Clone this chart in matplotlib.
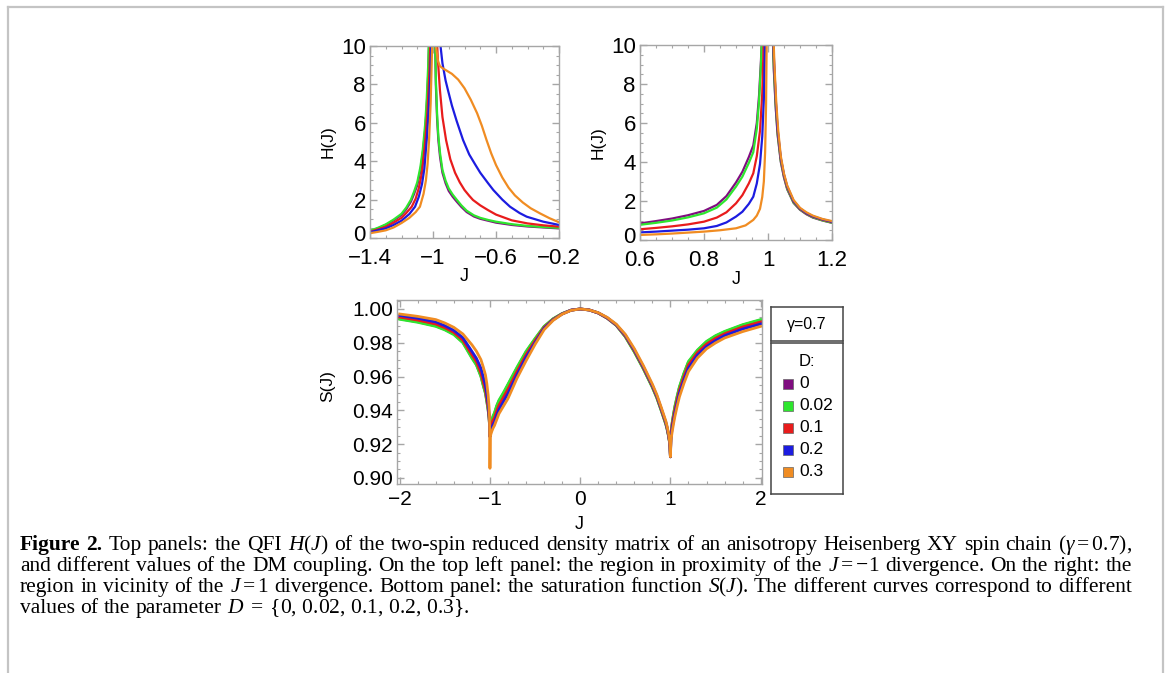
import matplotlib
matplotlib.use("Agg")
import matplotlib.pyplot as plt
from matplotlib.ticker import MultipleLocator
from matplotlib.patches import Rectangle
from matplotlib.lines import Line2D
from matplotlib.transforms import ScaledTranslation

plt.rcParams["font.family"] = ["Liberation Sans", "DejaVu Sans"]
plt.rcParams["mathtext.fontset"] = "custom"
plt.rcParams["mathtext.rm"] = "Liberation Serif"
plt.rcParams["mathtext.it"] = "Liberation Serif:italic"
plt.rcParams["mathtext.bf"] = "Liberation Serif:bold"

# ---- data ----
D_LABELS = ["0", "0.02", "0.1", "0.2", "0.3"]
COLORS = ["#800d80", "#2ee62e", "#e81c1c", "#1c1ce0", "#f08c22"]

# top left panel: H(J) near J = -1
HL_pg_J = [-1.4, -1.35, -1.3, -1.25, -1.2, -1.17, -1.14, -1.12, -1.1, -1.08, -1.065, -1.05, -1.04, -1.03, -1.02,
           -0.99, -0.982, -0.974, -0.966, -0.955, -0.94, -0.92, -0.9, -0.875, -0.85, -0.82, -0.786, -0.74, -0.7,
           -0.65, -0.6, -0.5, -0.4, -0.3, -0.2]
HL_purple_H = [0.36, 0.5, 0.68, 0.92, 1.2, 1.5, 1.9, 2.3, 2.75, 3.5, 4.4, 5.6, 6.8, 8.6, 12,
               12, 8.0, 6.2, 5.1, 4.2, 3.4, 2.85, 2.45, 2.15, 1.9, 1.62, 1.35, 1.12, 1.0, 0.9, 0.8, 0.68, 0.6, 0.55, 0.5]
HL_green_H = [0.38, 0.53, 0.71, 0.96, 1.26, 1.58, 2.0, 2.42, 2.9, 3.7, 4.6, 5.9, 7.2, 9.1, 12,
              12, 8.3, 6.45, 5.3, 4.4, 3.55, 2.98, 2.58, 2.26, 2.0, 1.7, 1.42, 1.18, 1.05, 0.94, 0.85, 0.72, 0.63, 0.57, 0.53]
HL_red_J = [-1.4, -1.35, -1.3, -1.25, -1.2, -1.17, -1.135, -1.11, -1.09, -1.07, -1.05, -1.035, -1.022, -1.012,
            -0.984, -0.97, -0.956, -0.94, -0.917, -0.89, -0.86, -0.83, -0.8, -0.77, -0.746, -0.7, -0.65, -0.6,
            -0.5, -0.4, -0.3, -0.2]
HL_red_H = [0.33, 0.45, 0.58, 0.8, 1.05, 1.3, 1.63, 2.05, 2.6, 3.4, 5.0, 6.6, 8.8, 12,
            12, 9.4, 7.7, 6.3, 5.1, 4.1, 3.4, 2.9, 2.5, 2.2, 1.98, 1.7, 1.45, 1.22, 0.92, 0.76, 0.66, 0.59]
HL_blue_J = [-1.4, -1.35, -1.3, -1.25, -1.2, -1.15, -1.114, -1.09, -1.07, -1.055, -1.04, -1.028, -1.016, -1.006,
             -0.965, -0.955, -0.94, -0.92, -0.905, -0.88, -0.85, -0.809, -0.77, -0.73, -0.7, -0.65, -0.617, -0.56,
             -0.511, -0.45, -0.405, -0.3, -0.2]
HL_blue_H = [0.3, 0.4, 0.5, 0.68, 0.9, 1.25, 1.63, 2.15, 2.8, 3.6, 5.1, 6.6, 8.6, 12,
             12, 10.2, 9.1, 8.2, 7.7, 6.9, 6.1, 5.1, 4.35, 3.8, 3.4, 2.85, 2.5, 2.0, 1.63, 1.3, 1.11, 0.85, 0.68]
HL_orange_J = [-1.4, -1.35, -1.3, -1.25, -1.2, -1.15, -1.11, -1.083, -1.06, -1.045, -1.035, -1.025, -1.015, -1.007,
               -0.998, -0.99, -0.98, -0.968, -0.956, -0.94, -0.92, -0.88, -0.84, -0.8, -0.76, -0.72, -0.69, -0.66,
               -0.63, -0.6, -0.56, -0.52, -0.48, -0.43, -0.38, -0.32, -0.26, -0.2]
HL_orange_H = [0.25, 0.32, 0.4, 0.55, 0.78, 1.05, 1.35, 1.63, 2.3, 3.0, 3.8, 5.1, 7.0, 9.5,
               12, 12, 9.9, 9.2, 8.95, 8.85, 8.75, 8.55, 8.25, 7.8, 7.2, 6.5, 5.85, 5.1, 4.4, 3.8, 3.15, 2.62,
               2.22, 1.85, 1.55, 1.28, 1.03, 0.82]

# top right panel: H(J) near J = 1
HR_pg_J = [0.6, 0.65, 0.7, 0.75, 0.8, 0.84, 0.87, 0.9, 0.92, 0.94, 0.954, 0.965, 0.972, 0.978, 0.985,
           1.012, 1.018, 1.024, 1.03, 1.04, 1.05, 1.06, 1.08, 1.1, 1.12, 1.14, 1.17, 1.2]
HR_purple_H = [0.85, 0.97, 1.1, 1.27, 1.49, 1.8, 2.25, 2.95, 3.5, 4.25, 4.85, 6.0, 7.4, 9.2, 12,
               12, 8.8, 6.8, 5.4, 4.0, 3.2, 2.6, 1.9, 1.55, 1.32, 1.15, 1.0, 0.88]
HR_green_H = [0.78, 0.88, 1.0, 1.16, 1.37, 1.66, 2.08, 2.74, 3.25, 3.95, 4.5, 5.7, 7.1, 9.0, 12,
              12, 8.9, 6.9, 5.45, 4.05, 3.25, 2.63, 1.92, 1.57, 1.34, 1.17, 1.01, 0.89]
HR_red_J = [0.6, 0.65, 0.7, 0.75, 0.8, 0.84, 0.87, 0.9, 0.92, 0.94, 0.954, 0.965, 0.975, 0.982, 0.99,
            1.013, 1.019, 1.025, 1.03, 1.04, 1.05, 1.06, 1.08, 1.1, 1.12, 1.14, 1.17, 1.2]
HR_red_H = [0.55, 0.62, 0.7, 0.8, 0.94, 1.15, 1.42, 1.88, 2.3, 2.9, 3.42, 4.3, 5.6, 7.5, 12,
            12, 9.0, 6.9, 5.6, 4.15, 3.3, 2.7, 1.97, 1.6, 1.36, 1.2, 1.04, 0.92]
HR_blue_J = [0.6, 0.65, 0.7, 0.75, 0.8, 0.84, 0.87, 0.9, 0.92, 0.94, 0.954, 0.965, 0.975, 0.982, 0.987, 0.993,
             1.013, 1.019, 1.025, 1.03, 1.04, 1.05, 1.06, 1.08, 1.1, 1.12, 1.14, 1.17, 1.2]
HR_blue_H = [0.39, 0.43, 0.48, 0.53, 0.6, 0.72, 0.9, 1.2, 1.45, 1.85, 2.22, 2.9, 3.9, 5.3, 7.2, 12,
             12, 9.1, 7.0, 5.7, 4.2, 3.35, 2.75, 2.0, 1.62, 1.38, 1.22, 1.06, 0.94]
HR_orange_J = [0.6, 0.65, 0.7, 0.75, 0.8, 0.85, 0.9, 0.93, 0.954, 0.965, 0.975, 0.982, 0.987, 0.991, 0.994, 0.997,
               1.014, 1.02, 1.026, 1.032, 1.04, 1.05, 1.06, 1.08, 1.1, 1.12, 1.14, 1.17, 1.2]
HR_orange_H = [0.26, 0.29, 0.33, 0.38, 0.43, 0.5, 0.6, 0.75, 1.03, 1.25, 1.6, 2.2, 3.0, 4.5, 7.0, 12,
               12, 9.0, 7.0, 5.6, 4.3, 3.4, 2.8, 2.05, 1.65, 1.42, 1.25, 1.08, 0.97]

# bottom panel: saturation function S(J)
S_J = [-2.0, -1.8, -1.6, -1.5, -1.4, -1.3, -1.2, -1.15, -1.1, -1.075, -1.05, -1.035, -1.02, -1.01, -1.005, -1.0,
       -0.995, -0.99, -0.98, -0.965, -0.95, -0.925, -0.9, -0.85, -0.8, -0.7, -0.6, -0.5, -0.4, -0.3, -0.2, -0.1,
       0.0, 0.1, 0.2, 0.3, 0.4, 0.5, 0.6, 0.7, 0.8, 0.85, 0.9, 0.925, 0.95, 0.965, 0.98, 0.99, 0.995, 1.0,
       1.005, 1.01, 1.02, 1.035, 1.05, 1.075, 1.1, 1.15, 1.2, 1.3, 1.4, 1.5, 1.6, 1.8, 2.0]
S_purple = [0.9942, 0.9924, 0.9900, 0.9879, 0.9851, 0.9803, 0.9713, 0.9672, 0.9604, 0.9552, 0.9504, 0.9456, 0.9404,
            0.9358, 0.9317, 0.9245, 0.9286, 0.9308, 0.9335, 0.9363, 0.9380, 0.9423, 0.9455, 0.9500, 0.9550, 0.9650,
            0.9745, 0.9822, 0.9895, 0.9941, 0.9972, 0.9993, 1.0, 0.9994, 0.9976, 0.9945, 0.9903, 0.9837, 0.9748,
            0.9648, 0.9538, 0.9475, 0.9398, 0.9358, 0.9318, 0.9286, 0.9247, 0.9212, 0.9183, 0.9125, 0.9248, 0.9280,
            0.9326, 0.9376, 0.9420, 0.9480, 0.9535, 0.9616, 0.9685, 0.9754, 0.9805, 0.9839, 0.9864, 0.9904, 0.9934]
S_green = [0.9939, 0.9921, 0.9897, 0.9876, 0.9848, 0.9800, 0.9709, 0.9668, 0.9600, 0.9548, 0.9500, 0.9452, 0.9400,
           0.9355, 0.9315, 0.9245, 0.9290, 0.9312, 0.9340, 0.9368, 0.9385, 0.9428, 0.9460, 0.9505, 0.9555, 0.9655,
           0.9749, 0.9825, 0.9897, 0.9942, 0.9973, 0.9993, 1.0, 0.9994, 0.9976, 0.9945, 0.9903, 0.9835, 0.9745,
           0.9645, 0.9535, 0.9472, 0.9395, 0.9355, 0.9315, 0.9283, 0.9245, 0.9210, 0.9180, 0.9125, 0.9250, 0.9282,
           0.9330, 0.9380, 0.9425, 0.9485, 0.9540, 0.9620, 0.9689, 0.9757, 0.9808, 0.9842, 0.9867, 0.9907, 0.9937]
S_red = [0.9952, 0.9934, 0.9911, 0.9889, 0.9861, 0.9815, 0.9729, 0.9688, 0.9620, 0.9570, 0.9520, 0.9470, 0.9415,
         0.9365, 0.9322, 0.9245, 0.9275, 0.9295, 0.9320, 0.9343, 0.9355, 0.9397, 0.9430, 0.9477, 0.9525, 0.9630,
         0.9729, 0.9812, 0.9890, 0.9938, 0.9971, 0.9993, 1.0, 0.9994, 0.9976, 0.9946, 0.9905, 0.9840, 0.9752,
         0.9652, 0.9542, 0.9479, 0.9402, 0.9362, 0.9322, 0.9290, 0.9250, 0.9215, 0.9185, 0.9125, 0.9240, 0.9270,
         0.9315, 0.9362, 0.9405, 0.9465, 0.9520, 0.9600, 0.9669, 0.9742, 0.9792, 0.9826, 0.9853, 0.9893, 0.9923]
S_blue = [0.9962, 0.9945, 0.9923, 0.9901, 0.9873, 0.9830, 0.9749, 0.9708, 0.9650, 0.9600, 0.9550, 0.9500, 0.9440,
          0.9382, 0.9333, 0.9245, 0.9260, 0.9275, 0.9295, 0.9316, 0.9330, 0.9370, 0.9405, 0.9452, 0.9500, 0.9610,
          0.9713, 0.9800, 0.9884, 0.9935, 0.9970, 0.9993, 1.0, 0.9994, 0.9977, 0.9948, 0.9907, 0.9845, 0.9758,
          0.9658, 0.9548, 0.9485, 0.9408, 0.9368, 0.9328, 0.9295, 0.9253, 0.9218, 0.9188, 0.9125, 0.9225, 0.9255,
          0.9295, 0.9342, 0.9385, 0.9445, 0.9500, 0.9580, 0.9650, 0.9727, 0.9778, 0.9813, 0.9842, 0.9881, 0.9911]
S_orange = [0.9970, 0.9956, 0.9937, 0.9917, 0.9891, 0.9852, 0.9788, 0.9750, 0.9700, 0.9658, 0.9610, 0.9560, 0.9490,
            0.9420, 0.9360, 0.9057, 0.9245, 0.9258, 0.9275, 0.9295, 0.9310, 0.9345, 0.9380, 0.9425, 0.9470, 0.9590,
            0.9693, 0.9790, 0.9877, 0.9932, 0.9969, 0.9992, 1.0, 0.9994, 0.9978, 0.9950, 0.9910, 0.9850, 0.9765,
            0.9665, 0.9555, 0.9492, 0.9415, 0.9375, 0.9335, 0.9302, 0.9260, 0.9222, 0.9192, 0.9125, 0.9210, 0.9238,
            0.9275, 0.9322, 0.9365, 0.9425, 0.9480, 0.9560, 0.9630, 0.9710, 0.9764, 0.9799, 0.9828, 0.9866, 0.9897]

# ticks
TL_XTICKS = [-1.4, -1.0, -0.6, -0.2]
TL_XLABELS = ["\u22121.4", "\u22121", "\u22120.6", "\u22120.2"]
TR_XTICKS = [0.6, 0.8, 1.0, 1.2]
TR_XLABELS = ["0.6", "0.8", "1", "1.2"]
H_YTICKS = [0, 2, 4, 6, 8, 10]
H_YLABELS = ["0", "2", "4", "6", "8", "10"]
S_XTICKS = [-2, -1, 0, 1, 2]
S_XLABELS = ["\u22122", "\u22121", "0", "1", "2"]
S_YTICKS = [0.90, 0.92, 0.94, 0.96, 0.98, 1.00]
S_YLABELS = ["0.90", "0.92", "0.94", "0.96", "0.98", "1.00"]

CAPTION = [
    "Figure 2. Top panels: the QFI $H(J)$ of the two-spin reduced density matrix of an anisotropy Heisenberg XY spin chain $(\\gamma = 0.7)$,",
    "and different values of the DM coupling. On the top left panel: the region in proximity of the $J = -1$ divergence. On the right: the",
    "region in vicinity of the $J = 1$ divergence. Bottom panel: the saturation function $S(J)$. The different curves correspond to different",
    "values of the parameter $D\\; = \\;\\{0,\\, 0.02,\\, 0.1,\\, 0.2,\\, 0.3\\}$.",
]

W, H = 1167, 673
FRAME = "#a6a6a6"


def rect(l, t, r, b):
    return [l / W, 1 - b / H, (r - l) / W, (b - t) / H]


def style(ax, size, xpad):
    for s in ax.spines.values():
        s.set_color(FRAME)
        s.set_linewidth(1.0)
    ax.tick_params(which="both", direction="in", top=True, right=True,
                   color=FRAME, labelsize=size, pad=3)
    ax.tick_params(axis="x", which="major", pad=xpad)
    ax.tick_params(which="major", length=5, width=1)
    ax.tick_params(which="minor", length=2.5, width=0.8)


def lift_zero_label(ax):
    # the "0" on the y axis sits right on top of the first x label; nudge it up a little
    lab = ax.yaxis.get_major_ticks()[0].label1
    lab.set_transform(lab.get_transform() + ScaledTranslation(0, 5 / 100, ax.figure.dpi_scale_trans))


fig = plt.figure(figsize=(W / 100, H / 100), dpi=100)

# outer page frame
fig.add_artist(Line2D([8 / W, 8 / W], [0, 1 - 7 / H], transform=fig.transFigure, color="#c4c4c4", lw=1.6))
fig.add_artist(Line2D([8 / W, 1163 / W], [1 - 7 / H, 1 - 7 / H], transform=fig.transFigure, color="#c4c4c4", lw=1.6))
fig.add_artist(Line2D([1163 / W, 1163 / W], [0, 1 - 7 / H], transform=fig.transFigure, color="#c4c4c4", lw=1.6))

# top left
ax1 = fig.add_axes(rect(370, 46, 559, 238))
left_curves = [(HL_pg_J, HL_purple_H), (HL_pg_J, HL_green_H), (HL_red_J, HL_red_H),
               (HL_blue_J, HL_blue_H), (HL_orange_J, HL_orange_H)]
for (jj, hh), c in zip(left_curves, COLORS):
    ax1.plot(jj, hh, color=c, lw=1.6)
ax1.set_xlim(-1.4, -0.2)
ax1.set_ylim(0, 10)
ax1.set_xticks(TL_XTICKS)
ax1.set_xticklabels(TL_XLABELS)
ax1.set_yticks(H_YTICKS)
ax1.set_yticklabels(H_YLABELS)
ax1.xaxis.set_minor_locator(MultipleLocator(0.1))
ax1.yaxis.set_minor_locator(MultipleLocator(0.5))
style(ax1, 16, 7)
lift_zero_label(ax1)
ax1.set_ylabel("H(J)", fontsize=12.5, va="center")
ax1.yaxis.set_label_coords(-0.22, 0.5)
ax1.set_xlabel("J", fontsize=13, va="center")
ax1.xaxis.set_label_coords(0.5, -0.2)

# top right
ax2 = fig.add_axes(rect(640, 45, 832, 240))
right_curves = [(HR_pg_J, HR_purple_H), (HR_pg_J, HR_green_H), (HR_red_J, HR_red_H),
                (HR_blue_J, HR_blue_H), (HR_orange_J, HR_orange_H)]
for (jj, hh), c in zip(right_curves, COLORS):
    ax2.plot(jj, hh, color=c, lw=1.6)
ax2.set_xlim(0.6, 1.2)
ax2.set_ylim(0, 10)
ax2.set_xticks(TR_XTICKS)
ax2.set_xticklabels(TR_XLABELS)
ax2.set_yticks(H_YTICKS)
ax2.set_yticklabels(H_YLABELS)
ax2.xaxis.set_minor_locator(MultipleLocator(0.05))
ax2.yaxis.set_minor_locator(MultipleLocator(0.5))
style(ax2, 16, 7)
lift_zero_label(ax2)
ax2.set_ylabel("H(J)", fontsize=12.5, va="center")
ax2.yaxis.set_label_coords(-0.22, 0.5)
ax2.set_xlabel("J", fontsize=13, va="center")
ax2.xaxis.set_label_coords(0.5, -0.2)

# bottom
ax3 = fig.add_axes(rect(397, 300, 762, 484))
for ss, c in zip([S_purple, S_green, S_red, S_blue, S_orange], COLORS):
    ax3.plot(S_J, ss, color=c, lw=2.0)
ax3.set_xlim(-2.03, 2.015)
ax3.set_ylim(0.8964, 1.0053)
ax3.set_xticks(S_XTICKS)
ax3.set_xticklabels(S_XLABELS)
ax3.set_yticks(S_YTICKS)
ax3.set_yticklabels(S_YLABELS)
ax3.xaxis.set_minor_locator(MultipleLocator(0.2))
ax3.yaxis.set_minor_locator(MultipleLocator(0.005))
style(ax3, 15, 4)
ax3.set_ylabel("S(J)", fontsize=12.5, va="center")
ax3.yaxis.set_label_coords(-0.19, 0.53)
ax3.set_xlabel("J", fontsize=13, va="center")
ax3.xaxis.set_label_coords(0.5, -0.22)

# legend boxes
g_ax = fig.add_axes(rect(771, 307, 843, 341))
d_ax = fig.add_axes(rect(771, 343, 843, 494))
for a in (g_ax, d_ax):
    a.set_xticks([])
    a.set_yticks([])
    for s in a.spines.values():
        s.set_color("#444444")
        s.set_linewidth(1.1)
g_ax.text(0.5, 0.5, "\u03b3=0.7", ha="center", va="center", fontsize=11.5, transform=g_ax.transAxes)
d_ax.text(0.5, (494 - 362) / 151, "D:", ha="center", va="center", fontsize=12, transform=d_ax.transAxes)
for i, (lab, c) in enumerate(zip(D_LABELS, COLORS)):
    yc = 384 + 22 * i
    yf = (494 - yc) / 151
    d_ax.add_patch(Rectangle((12 / 72, yf - 5 / 151), 10 / 72, 10 / 151, transform=d_ax.transAxes,
                             facecolor=c, edgecolor="#666666", lw=0.5))
    d_ax.text(28 / 72, yf, lab, ha="left", va="center", fontsize=12.5, transform=d_ax.transAxes)

# caption, justified like the page
renderer = fig.canvas.get_renderer()
cap_size = 15.5
x_left, x_right = 20, 1132
baselines = [550, 571, 592, 613]
for k, line in enumerate(CAPTION):
    raw = line.split(" ")
    words = []
    buf = ""
    for w in raw:
        buf = w if buf == "" else buf + " " + w
        if buf.count("$") % 2 == 0:
            words.append(buf)
            buf = ""
    texts = []
    for i, w in enumerate(words):
        bold = (k == 0 and i < 2)
        t = fig.text(0, 1 - baselines[k] / H, w, fontsize=cap_size, family="Liberation Serif",
                     fontweight="bold" if bold else "normal", va="baseline", ha="left")
        texts.append(t)
    widths = [t.get_window_extent(renderer).width for t in texts]
    if k < len(CAPTION) - 1:
        gap = (x_right - x_left - sum(widths)) / (len(words) - 1)
    else:
        gap = cap_size * 100 / 72 * 0.25
    x = x_left
    for t, w in zip(texts, widths):
        t.set_x(x / W)
        x += w + gap

fig.savefig("out.png", dpi=100)
